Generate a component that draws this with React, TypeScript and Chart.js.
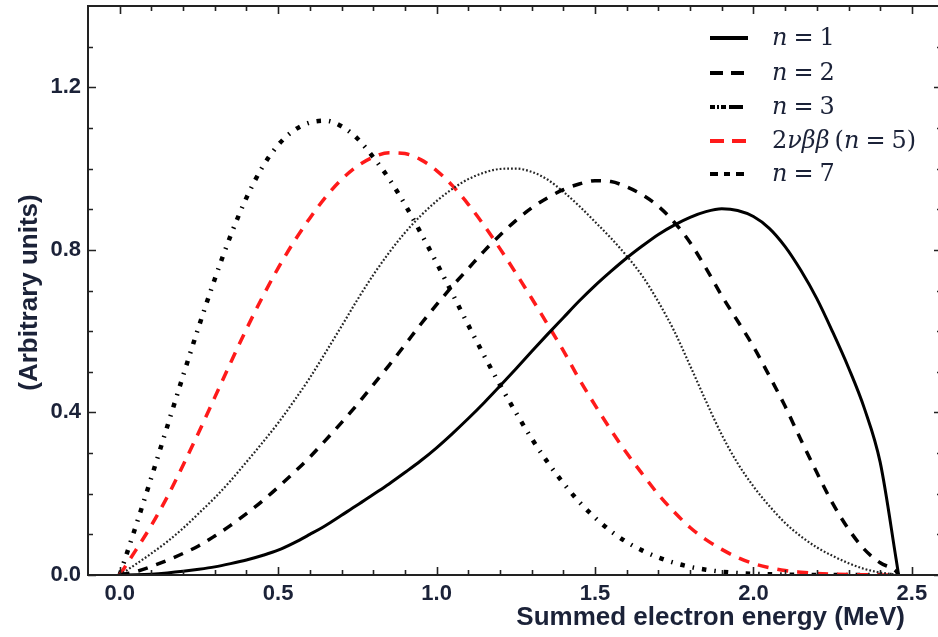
import React, { useEffect, useRef } from "react";
import { Chart, registerables } from "chart.js";
Chart.register(...registerables);

// Summed electron energy (MeV)
const ENERGY = [0, 0.05, 0.1, 0.15, 0.2, 0.25, 0.3, 0.35, 0.4, 0.45, 0.5, 0.55, 0.6, 0.65, 0.7, 0.75, 0.8, 0.85, 0.9, 0.95, 1.0, 1.05, 1.1, 1.15, 1.2, 1.25, 1.3, 1.35, 1.4, 1.45, 1.5, 1.55, 1.6, 1.65, 1.7, 1.75, 1.8, 1.85, 1.9, 1.95, 2.0, 2.05, 2.1, 2.15, 2.2, 2.25, 2.3, 2.35, 2.4, 2.45, 2.458];

const N1 = [0, 0.0005, 0.002, 0.005, 0.009, 0.014, 0.02, 0.028, 0.037, 0.048, 0.061, 0.079, 0.1, 0.122, 0.147, 0.172, 0.198, 0.224, 0.252, 0.281, 0.313, 0.348, 0.385, 0.424, 0.465, 0.507, 0.55, 0.592, 0.633, 0.674, 0.712, 0.747, 0.78, 0.81, 0.838, 0.861, 0.88, 0.894, 0.901, 0.897, 0.882, 0.853, 0.808, 0.749, 0.68, 0.598, 0.51, 0.41, 0.277, 0.04, 0];
const N2 = [0, 0.008, 0.021, 0.036, 0.053, 0.072, 0.096, 0.122, 0.151, 0.182, 0.216, 0.252, 0.29, 0.332, 0.375, 0.42, 0.468, 0.516, 0.566, 0.617, 0.665, 0.711, 0.754, 0.797, 0.836, 0.872, 0.903, 0.928, 0.948, 0.962, 0.97, 0.968, 0.955, 0.935, 0.907, 0.868, 0.818, 0.755, 0.687, 0.625, 0.562, 0.49, 0.415, 0.332, 0.252, 0.176, 0.113, 0.063, 0.03, 0.009, 0];
const N3 = [0, 0.026, 0.053, 0.082, 0.115, 0.152, 0.19, 0.232, 0.278, 0.325, 0.374, 0.428, 0.485, 0.548, 0.612, 0.677, 0.738, 0.793, 0.842, 0.884, 0.92, 0.95, 0.974, 0.99, 0.999, 1.0, 0.992, 0.973, 0.943, 0.908, 0.869, 0.829, 0.785, 0.735, 0.672, 0.6, 0.515, 0.428, 0.345, 0.275, 0.218, 0.17, 0.128, 0.095, 0.068, 0.047, 0.029, 0.015, 0.006, 0.001, 0];
const N5 = [0, 0.06, 0.122, 0.192, 0.27, 0.352, 0.437, 0.522, 0.605, 0.683, 0.755, 0.82, 0.878, 0.93, 0.973, 1.006, 1.028, 1.039, 1.037, 1.022, 0.995, 0.958, 0.912, 0.86, 0.803, 0.743, 0.681, 0.617, 0.552, 0.482, 0.418, 0.357, 0.3, 0.248, 0.198, 0.155, 0.117, 0.087, 0.063, 0.043, 0.028, 0.018, 0.011, 0.007, 0.004, 0.002, 0.001, 0.0005, 0, 0, 0];
const N7 = [0, 0.118, 0.24, 0.365, 0.49, 0.612, 0.728, 0.835, 0.928, 1.003, 1.058, 1.094, 1.113, 1.118, 1.104, 1.074, 1.028, 0.975, 0.912, 0.842, 0.768, 0.692, 0.615, 0.54, 0.468, 0.4, 0.336, 0.278, 0.226, 0.18, 0.141, 0.108, 0.081, 0.06, 0.043, 0.03, 0.02, 0.013, 0.008, 0.005, 0.003, 0.002, 0.001, 0.0005, 0, 0, 0, 0, 0, 0, 0];

const X_TICKS = [0, 0.5, 1.0, 1.5, 2.0, 2.5];
const Y_TICKS = [0, 0.4, 0.8, 1.2];
const MINOR_STEP = 0.1;

const X_TITLE = "Summed electron energy (MeV)";
const Y_TITLE = "(Arbitrary units)";

const TEXT_COLOR = "#1b2238";
const FRAME_COLOR = "#222222";

type Seg = { t: string; italic?: boolean };
const LEGEND: { segs: Seg[]; color: string; dash: number[] }[] = [
  { segs: [{ t: "n", italic: true }, { t: "=" }, { t: "1" }], color: "#000", dash: [] },
  { segs: [{ t: "n", italic: true }, { t: "=" }, { t: "2" }], color: "#000", dash: [13, 8, 13] },
  { segs: [{ t: "n", italic: true }, { t: "=" }, { t: "3" }], color: "#000", dash: [5, 2, 2, 2, 5, 3, 14] },
  { segs: [{ t: "2" }, { t: "νββ", italic: true }, { t: "(" }, { t: "n", italic: true }, { t: "=" }, { t: "5)" }], color: "#ff1a1a", dash: [14, 8, 14] },
  { segs: [{ t: "n", italic: true }, { t: "=" }, { t: "7" }], color: "#000", dash: [8, 6, 6, 6, 8] },
];

const pts = (ys: number[]) => ENERGY.map((x, i) => ({ x, y: ys[i] }));

const framePlugin = {
  id: "frameTicks",
  afterDraw(chart: any) {
    const { ctx, chartArea: a, scales } = chart;
    const x = scales.x;
    const y = scales.y;
    ctx.save();
    ctx.strokeStyle = FRAME_COLOR;
    ctx.lineWidth = 2;
    ctx.strokeRect(a.left, a.top, a.right - a.left, a.bottom - a.top);
    ctx.lineWidth = 1.6;
    const near = (v: number, arr: number[]) => arr.some((t) => Math.abs(t - v) < 1e-6);
    for (let i = 0; i <= 25; i++) {
      const v = Math.round(i * MINOR_STEP * 10) / 10;
      const px = Math.round(x.getPixelForValue(v)) + 0.5;
      const len = near(v, X_TICKS) ? 8 : 5;
      ctx.beginPath();
      ctx.moveTo(px, a.bottom);
      ctx.lineTo(px, a.bottom - len);
      ctx.moveTo(px, a.top);
      ctx.lineTo(px, a.top + len);
      ctx.stroke();
    }
    for (let i = 0; i <= 13; i++) {
      const v = Math.round(i * MINOR_STEP * 10) / 10;
      const py = Math.round(y.getPixelForValue(v)) + 0.5;
      const len = near(v, Y_TICKS) ? 8 : 5;
      ctx.beginPath();
      ctx.moveTo(a.left, py);
      ctx.lineTo(a.left + len, py);
      ctx.moveTo(a.right, py);
      ctx.lineTo(a.right - len, py);
      ctx.stroke();
    }

    // axis titles
    ctx.fillStyle = TEXT_COLOR;
    ctx.font = 'bold 26px "Liberation Sans", Arial, sans-serif';
    ctx.textAlign = "right";
    ctx.textBaseline = "middle";
    ctx.fillText(X_TITLE, 905, a.bottom + 43);
    ctx.save();
    ctx.translate(30, (a.top + a.bottom) / 2 + 2);
    ctx.rotate(-Math.PI / 2);
    ctx.textAlign = "center";
    ctx.fillText(Y_TITLE, 0, 0);
    ctx.restore();

    // legend
    const lx0 = 710;
    const lx1 = 748;
    const tx = 772;
    const rowY = [38, 73, 107, 141, 174];
    LEGEND.forEach((item, i) => {
      const yy = rowY[i];
      ctx.save();
      ctx.strokeStyle = item.color;
      ctx.lineWidth = 4;
      ctx.lineCap = "butt";
      ctx.setLineDash(item.dash);
      ctx.beginPath();
      ctx.moveTo(lx0, yy);
      ctx.lineTo(lx1, yy);
      ctx.stroke();
      ctx.restore();
      let cx = tx;
      ctx.textAlign = "left";
      ctx.textBaseline = "middle";
      ctx.fillStyle = TEXT_COLOR;
      item.segs.forEach((s) => {
        ctx.font = (s.italic ? "italic " : "") + '24px "DejaVu Serif", "Liberation Serif", serif';
        const isEq = s.t === "=";
        if (isEq) cx += 6;
        ctx.fillText(s.t, cx, yy + 1);
        cx += ctx.measureText(s.t).width;
        if (isEq) cx += 6;
        if (s.t === "νββ") cx += 5;
      });
    });
    ctx.restore();
  },
};

export default function App() {
  const ref = useRef<HTMLCanvasElement | null>(null);
  useEffect(() => {
    if (!ref.current) return;
    const tickFont = { family: '"Liberation Sans", Arial, sans-serif', size: 22, weight: "bold" as const };
    const zeroPad = (s: any) => {
      s.paddingTop = 0;
      s.paddingBottom = 0;
      s.paddingLeft = 0;
      s.paddingRight = 0;
    };
    const chart = new Chart(ref.current, {
      type: "line",
      data: {
        datasets: [
          { label: "n = 1", data: pts(N1), borderColor: "#000", borderWidth: 3, borderDash: [] },
          { label: "n = 2", data: pts(N2), borderColor: "#000", borderWidth: 3.5, borderDash: [10, 9] },
          { label: "n = 3", data: pts(N3), borderColor: "#262626", borderWidth: 2.2, borderDash: [1.8, 2] },
          { label: "2νββ (n = 5)", data: pts(N5), borderColor: "#ff1a1a", borderWidth: 3.5, borderDash: [11, 9] },
          { label: "n = 7", data: pts(N7), borderColor: "#000", borderWidth: 4.5, borderDash: [4.5, 8, 1.5, 8] },
        ].map((d) => ({
          ...d,
          pointRadius: 0,
          fill: false,
          cubicInterpolationMode: "monotone" as const,
          borderCapStyle: "butt" as const,
        })),
      },
      options: {
        animation: false,
        responsive: false,
        maintainAspectRatio: false,
        devicePixelRatio: 1,
        layout: { padding: { top: 6, right: 4, left: 0, bottom: 0 } },
        plugins: { legend: { display: false }, tooltip: { enabled: false } },
        scales: {
          x: {
            type: "linear",
            min: -0.1,
            max: 2.595,
            grid: { display: false, drawTicks: false },
            border: { display: false },
            afterBuildTicks: (s: any) => {
              s.ticks = X_TICKS.map((v) => ({ value: v }));
            },
            afterFit: (s: any) => {
              s.height = 62;
              zeroPad(s);
            },
            ticks: {
              padding: 6,
              color: TEXT_COLOR,
              font: tickFont,
              maxRotation: 0,
              autoSkip: false,
              callback: (v: any) => Number(v).toFixed(1),
            },
          },
          y: {
            type: "linear",
            min: 0,
            max: 1.4,
            grid: { display: false, drawTicks: false },
            border: { display: false },
            afterBuildTicks: (s: any) => {
              s.ticks = Y_TICKS.map((v) => ({ value: v }));
            },
            afterFit: (s: any) => {
              s.width = 88;
              zeroPad(s);
            },
            ticks: {
              padding: 7,
              color: TEXT_COLOR,
              font: tickFont,
              autoSkip: false,
              callback: (v: any) => Number(v).toFixed(1),
            },
          },
        },
      },
      plugins: [framePlugin],
    });
    return () => chart.destroy();
  }, []);
  return (
    <div style={{ position: "fixed", left: 0, top: 0, width: 938, height: 637, overflow: "hidden", background: "#fff" }}>
      <canvas ref={ref} width={946} height={637} style={{ display: "block", width: 946, height: 637 }} />
    </div>
  );
}
